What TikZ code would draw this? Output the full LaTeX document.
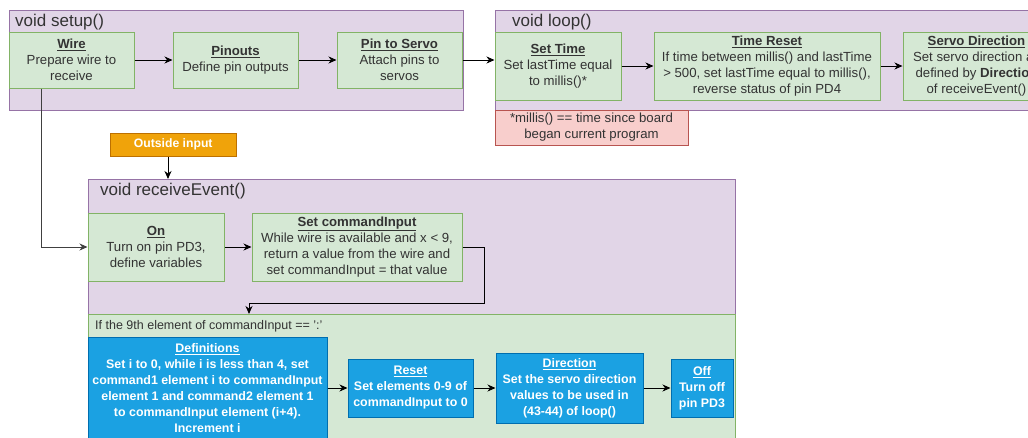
\documentclass[tikz,border=0pt]{standalone}
\usepackage{fontspec}
\setmainfont{Liberation Sans}
\usetikzlibrary{arrows.meta}
\definecolor{purpleF}{HTML}{E1D5E7}
\definecolor{purpleD}{HTML}{9673A6}
\definecolor{greenF}{HTML}{D5E8D4}
\definecolor{greenD}{HTML}{82B366}
\definecolor{redF}{HTML}{F8CECC}
\definecolor{redD}{HTML}{B85450}
\definecolor{orangeF}{HTML}{F0A30A}
\definecolor{orangeD}{HTML}{BD7000}
\definecolor{blueF}{HTML}{1BA1E2}
\definecolor{blueD}{HTML}{006EAF}
\definecolor{txt}{HTML}{333333}
\newcommand\mybody{\fontsize{13.2}{16}\selectfont}
\newcommand\myblue{\fontsize{12.4}{16}\selectfont\bfseries}
\newcommand\mytitle{\fontsize{17}{20}\selectfont}
\newcommand\myif{\fontsize{12.5}{15}\selectfont}
\newcommand\uh[1]{\underline{\textbf{#1}}}
\begin{document}
\begin{tikzpicture}[x=1pt,y=-1pt,
  cont/.style={draw=purpleD, fill=purpleF, line width=1pt, anchor=north west, inner sep=0pt},
  gcont/.style={draw=greenD, fill=greenF, line width=1pt, anchor=north west, inner sep=0pt},
  gbox/.style={draw=greenD, fill=greenF, line width=1pt, text=txt, align=center, inner sep=1pt, font=\mybody},
  bbox/.style={draw=blueD, fill=blueF, line width=1pt, text=white, align=center, inner sep=1pt, font=\myblue},
  rbox/.style={draw=redD, fill=redF, line width=1pt, text=txt, align=center, inner sep=1pt, font=\mybody},
  obox/.style={draw=orangeD, fill=orangeF, line width=1pt, text=white, align=center, inner sep=1pt, font=\fontsize{12.2}{14}\selectfont\bfseries},
  ttl/.style={anchor=west, inner sep=0pt, font=\mytitle, text=txt},
  iftxt/.style={anchor=west, inner sep=0pt, font=\myif, text=txt},
  arr/.style={-{Stealth[length=8pt,width=7pt,inset=2.5pt]}, line width=1pt, draw=black},
  wirearr/.style={-{Stealth[length=8pt,width=7pt,inset=2.5pt]}, line width=1pt, draw=black!75}
]
\useasboundingbox (0,0) rectangle (1028,437);
\fill[white] (0,0) rectangle (1028,437);
\clip (0,0) rectangle (1028,437);

% containers
\node[cont, minimum width=454pt, minimum height=100.5pt] (setupc) at (8.5,9.5) {};
\node[ttl] (setupt) at (15,22) {void setup()};
\node[cont, minimum width=560pt, minimum height=100.5pt] (loopc) at (495,9.5) {};
\node[ttl] (loopt) at (512,22) {void loop()};
\node[rbox, minimum width=193pt, minimum height=35pt] (note) at (591.5,127.5) {*millis() == time since board\\began current program};
\node[obox, minimum width=125.5pt, minimum height=23pt] (outside) at (173.25,144.5) {Outside input};
\node[cont, minimum width=647pt, minimum height=280pt] (recv) at (88,179) {};
\node[ttl] (recvt) at (100,191) {void receiveEvent()};
\node[gcont, minimum width=647pt, minimum height=140pt] (ifc) at (88,314) {};
\node[iftxt] (ift) at (95,326) {If the 9th element of commandInput == ':'};

% setup boxes
\node[gbox, minimum width=125pt, minimum height=56pt] (wire) at (71.5,60) {\uh{Wire}\\Prepare wire to\\receive};
\node[gbox, minimum width=125pt, minimum height=56pt] (pinouts) at (235.5,60) {\uh{Pinouts}\\Define pin outputs};
\node[gbox, minimum width=125pt, minimum height=56pt] (pin) at (399.5,60) {\uh{Pin to Servo}\\Attach pins to\\servos};

% loop boxes
\node[gbox, minimum width=126pt, minimum height=68pt] (settime) at (558,66) {\uh{Set Time}\\Set lastTime equal\\to millis()*};
\node[gbox, minimum width=226pt, minimum height=68pt] (treset) at (767,66) {\uh{Time Reset}\\If time between millis() and lastTime\\> 500, set lastTime equal to millis(),\\reverse status of pin PD4};
\node[gbox, minimum width=147pt, minimum height=68pt] (servo) at (976.5,66) {\uh{Servo Direction}\\Set servo direction as\\defined by \textbf{Direction}\\of receiveEvent()};

% receiveEvent boxes
\node[gbox, minimum width=136pt, minimum height=68pt] (on) at (156,247) {\uh{On}\\Turn on pin PD3,\\define variables};
\node[gbox, minimum width=210pt, minimum height=68pt] (sci) at (357,247) {\uh{Set commandInput}\\While wire is available and x < 9,\\return a value from the wire and\\set commandInput = that value};

\node[bbox, minimum width=239pt, minimum height=102pt] (defs) at (207.5,388) {\underline{Definitions}\\Set i to 0, while i is less than 4, set\\command1 element i to commandInput\\element 1 and command2 element 1\\to commandInput element (i+4).\\Increment i};
\node[bbox, minimum width=125pt, minimum height=58pt] (reset) at (410.5,388) {\underline{Reset}\\Set elements 0-9 of\\commandInput to 0};
\node[bbox, minimum width=147pt, minimum height=70pt] (dir) at (569.5,388) {\underline{Direction}\\Set the servo direction\\values to be used in\\(43-44) of loop()};
\node[bbox, minimum width=62pt, minimum height=58pt] (off) at (702,388) {\underline{Off}\\Turn off\\pin PD3};

% helper coordinates
\coordinate (wx) at (41,0);
\coordinate (ox) at (168,0);
\coordinate (t1) at (484,303);
\coordinate (t2) at (249,303);

% connectors
\draw[arr] (wire) -- (pinouts);
\draw[arr] (pinouts) -- (pin);
\draw[arr] (pin.east) -- (settime.west |- pin.east);
\draw[arr] (settime) -- (treset);
\draw[arr] (treset) -- (servo);
\draw[wirearr] (wire.south -| wx) |- (on.west);
\draw[arr] (outside.south -| ox) -- (recv.north -| ox);
\draw[arr] (on) -- (sci);
\draw[arr] (sci.east) -| (t1) -- (t2) -- (ifc.north -| t2);
\draw[arr] (defs.east |- reset.west) -- (reset.west);
\draw[arr] (reset) -- (dir);
\draw[arr] (dir) -- (off);
\end{tikzpicture}
\end{document}
